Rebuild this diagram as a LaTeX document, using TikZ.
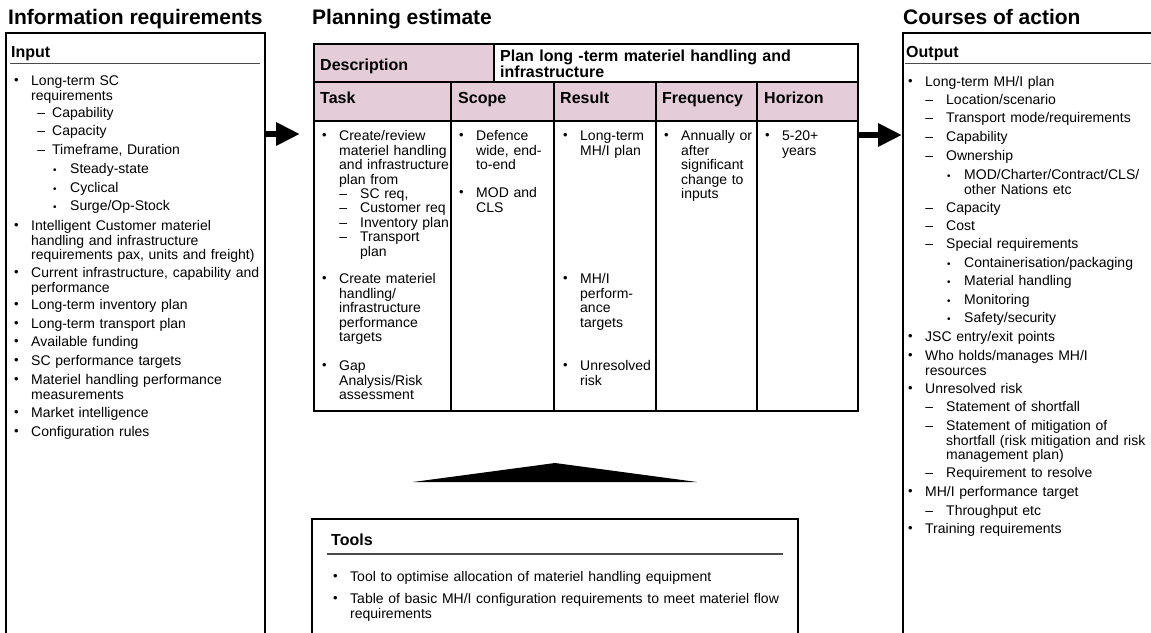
\documentclass[tikz,border=0pt]{standalone}
\usepackage{fontspec}
\setmainfont{Liberation Sans}
\usepackage{tikz}
\usetikzlibrary{arrows.meta, positioning, calc}
\usepackage{xcolor}
\definecolor{headpink}{HTML}{E4CCD8}
\definecolor{rulegray}{HTML}{4A4A4A}
\newcommand{\bodyfont}{\fontsize{14}{14.5}\selectfont}
\newcommand{\bA}{\llap{\raisebox{1.5pt}{\fontsize{13}{13}\selectfont\textbullet}\hspace{12.5pt}}}
\newcommand{\bB}[1][13pt]{\llap{\textendash\hspace{#1}}}
\newcommand{\bC}{\llap{\raisebox{0.5pt}{\fontsize{10}{10}\selectfont\textbullet}\hspace{13.5pt}}}
\tikzset{
  boxframe/.style={rectangle, draw, line width=2pt, inner sep=0pt},
  coltitle/.style={anchor=base west, inner sep=0pt,
                   font=\fontsize{21}{24}\selectfont\bfseries},
  head/.style={anchor=base west, inner sep=0pt,
               font=\fontsize{16}{16}\selectfont\bfseries},
  itm/.style={anchor=base west, inner sep=0pt, text width=#1,
              align=left, font=\bodyfont},
  itm/.default=240pt,
  rulebar/.style={draw=rulegray, line width=1.6pt},
  rowline/.style={line width=2pt},
  bigarrow/.style={-{Triangle[length=24pt, width=22pt]}, line width=6pt},
}

\begin{document}
\begin{tikzpicture}[x=1pt, y=-1pt]
  \useasboundingbox (0,0) rectangle (1151,632);

  % column titles
  \node [coltitle] (tIn) at (8,24) {Information requirements};
  \node [coltitle] (tPlan) at (312,24) {Planning estimate};
  \node [coltitle] (tOut) at (903,24) {Courses of action};

  % input
  \node [boxframe, minimum width=259pt, minimum height=617pt] (inbox) at (135.5,341.5) {};
  \node [head] (inHead) at (11,57) {Input};
  \draw [rulebar] (10,63.5) -- (260,63.5);
  \node [itm] (in1) at (31,85.5) {\bA Long-term SC\\requirements};
  \node [itm] (in2) at (52,117.5) {\bB[7pt]Capability};
  \node [itm] (in3) at (52,135.5) {\bB[7pt]Capacity};
  \node [itm] (in4) at (52,154.5) {\bB[7pt]Timeframe, Duration};
  \node [itm] (in5) at (70,173.5) {\bC Steady-state};
  \node [itm] (in6) at (70,192.5) {\bC Cyclical};
  \node [itm] (in7) at (70,210.5) {\bC Surge/Op-Stock};
  \node [itm] (in8) at (31,230.5) {\bA Intelligent Customer materiel\\handling and infrastructure\\requirements pax, units and freight)};
  \node [itm] (in9) at (31,277.5) {\bA Current infrastructure, capability and\\performance};
  \node [itm] (in10) at (31,309.5) {\bA Long-term inventory plan};
  \node [itm] (in11) at (31,328.5) {\bA Long-term transport plan};
  \node [itm] (in12) at (31,346.5) {\bA Available funding};
  \node [itm] (in13) at (31,365.5) {\bA SC performance targets};
  \node [itm] (in14) at (31,384.5) {\bA Materiel handling performance\\measurements};
  \node [itm] (in15) at (31,417.5) {\bA Market intelligence};
  \node [itm] (in16) at (31,436.5) {\bA Configuration rules};

  % planning estimate table
  \fill [headpink] (314,44) rectangle (494,82);
  \fill [headpink] (314,82) rectangle (858,121);
  \draw [rowline] (314,82) -- (858,82);
  \draw [rowline] (314,121) -- (858,121);
  \draw [rowline] (494,44) -- (494,82);
  \draw [rowline] (451,82) -- (451,411);
  \draw [rowline] (554,82) -- (554,411);
  \draw [rowline] (656,82) -- (656,411);
  \draw [rowline] (757,82) -- (757,411);
  \node [boxframe, line width=2.5pt, minimum width=544pt, minimum height=367pt] (plan) at (586,227.5) {};
  \node [head] (hDesc) at (320,70.5) {Description};
  \node [head, text width=350pt, align=left] (hPlan) at (500,61.5) {Plan long -term materiel handling and\\infrastructure};
  \node [head] (hTask) at (320,103.5) {Task};
  \node [head] (hScope) at (458,103.5) {Scope};
  \node [head] (hResult) at (560,103.5) {Result};
  \node [head] (hFreq) at (662,103.5) {Frequency};
  \node [head] (hHor) at (764,103.5) {Horizon};

  \node [itm=130pt] (task1) at (339,140.5) {\bA Create/review\\materiel handling\\and infrastructure\\plan from};
  \node [itm=110pt] (task2) at (360,198.5) {\bB SC req,};
  \node [itm=110pt] (task3) at (360,212.5) {\bB Customer req};
  \node [itm=110pt] (task4) at (360,227.5) {\bB Inventory plan};
  \node [itm=110pt] (task5) at (360,241.5) {\bB Transport\\plan};
  \node [itm=130pt] (task6) at (339,283.5) {\bA Create materiel\\handling/\\infrastructure\\performance\\targets};
  \node [itm=130pt] (task7) at (339,370.5) {\bA Gap\\Analysis/Risk\\assessment};

  \node [itm=90pt] (scope1) at (476,140.5) {\bA Defence\\wide, end-\\to-end};
  \node [itm=90pt] (scope2) at (476,197.5) {\bA MOD and\\CLS};

  \node [itm=90pt] (res1) at (580,140.5) {\bA Long-term\\MH/I plan};
  \node [itm=90pt] (res2) at (580,283.5) {\bA MH/I\\perform-\\ance\\targets};
  \node [itm=90pt] (res3) at (580,370.5) {\bA Unresolved\\risk};

  \node [itm=90pt] (freq1) at (681,140.5) {\bA Annually or\\after\\significant\\change to\\inputs};
  \node [itm=90pt] (hor1) at (782,140.5) {\bA 5-20+\\years};

  % tools
  \fill (413,482) -- (555,463) -- (697,482) -- cycle;
  \node [boxframe, minimum width=486pt, minimum height=131pt] (toolbox) at (555,584.5) {};
  \node [head] (tlHead) at (331,545.5) {Tools};
  \draw [rulebar] (327,554) -- (783,554);
  \node [itm=460pt] (tl1) at (350,581.5) {\bA Tool to optimise allocation of materiel handling equipment};
  \node [itm=460pt] (tl2) at (350,603.5) {\bA Table of basic MH/I configuration requirements to meet materiel flow\\requirements};

  % output
  \node [boxframe, minimum width=257pt, minimum height=617pt] (outbox) at (1031.5,341.5) {};
  \node [head] (outHead) at (906,57) {Output};
  \draw [rulebar] (905,63.5) -- (1151,63.5);
  \node [itm] (out1) at (925,86.5) {\bA Long-term MH/I plan};
  \node [itm] (out2) at (946,104.5) {\bB Location/scenario};
  \node [itm] (out3) at (946,122.5) {\bB Transport mode/requirements};
  \node [itm] (out4) at (946,141.5) {\bB Capability};
  \node [itm] (out5) at (946,160.5) {\bB Ownership};
  \node [itm] (out6) at (964,179.5) {\bC MOD/Charter/Contract/CLS/\\other Nations etc};
  \node [itm] (out7) at (946,212.5) {\bB Capacity};
  \node [itm] (out8) at (946,230.5) {\bB Cost};
  \node [itm] (out9) at (946,248.5) {\bB Special requirements};
  \node [itm] (out10) at (964,267.5) {\bC Containerisation/packaging};
  \node [itm] (out11) at (964,285.5) {\bC Material handling};
  \node [itm] (out12) at (964,304.5) {\bC Monitoring};
  \node [itm] (out13) at (964,322.5) {\bC Safety/security};
  \node [itm] (out14) at (925,341.5) {\bA JSC entry/exit points};
  \node [itm] (out15) at (925,360.5) {\bA Who holds/manages MH/I\\resources};
  \node [itm] (out16) at (925,393.5) {\bA Unresolved risk};
  \node [itm] (out17) at (946,411.5) {\bB Statement of shortfall};
  \node [itm] (out18) at (946,430.5) {\bB Statement of mitigation of\\shortfall (risk mitigation and risk\\management plan)};
  \node [itm] (out19) at (946,477.5) {\bB Requirement to resolve};
  \node [itm] (out20) at (925,496.5) {\bA MH/I performance target};
  \node [itm] (out21) at (946,515.5) {\bB Throughput etc};
  \node [itm] (out22) at (925,533.5) {\bA Training requirements};

  % flow arrows
  \coordinate (inTip) at (300,134);
  \coordinate (outLvl) at (0,135);
  \draw [bigarrow] (inbox.east |- inTip) -- (inTip);
  \draw [bigarrow] (plan.east |- outLvl) -- (outbox.west |- outLvl);
\end{tikzpicture}
\end{document}
